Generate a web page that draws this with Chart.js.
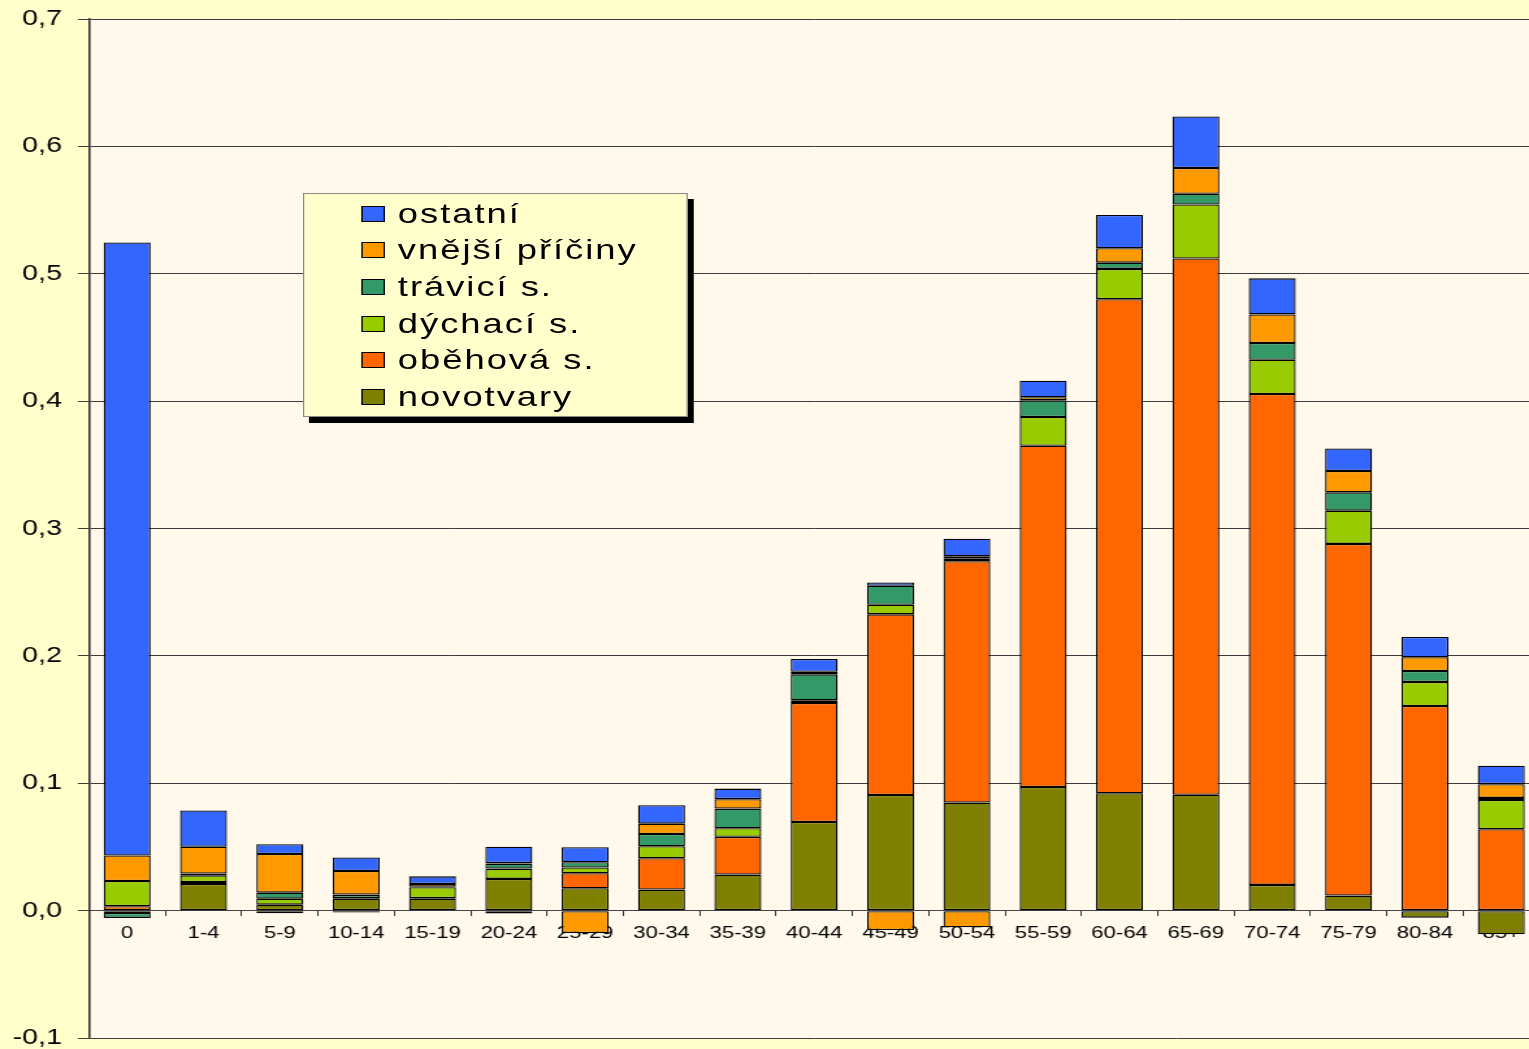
<!DOCTYPE html>
<html>
<head>
<meta charset="utf-8">
<script src="https://cdn.jsdelivr.net/npm/chart.js@4.4.1/dist/chart.umd.min.js"></script>
<style>
  html, body { margin: 0; padding: 0; background: #FFFFCC; overflow: hidden; }
  #wrap { position: relative; width: 1184px; height: 1049px; transform: scaleX(1.30017); transform-origin: 0 0; }
  #c { position: absolute; left: 0; top: 0; }
  #legend {
    position: absolute; left: 233px; top: 193px; width: 296px; height: 224px;
    box-sizing: border-box; background: #FFFFCC; border: 1px solid #888;
    box-shadow: 4.6px 6px 0 #000; padding-top: 1.5px;
    font-family: 'Liberation Sans', Arial, sans-serif; font-size: 28px; letter-spacing: 1.5px; color: #000;
  }
  .row { display: flex; align-items: center; height: 36.6px; }
  .sw { box-sizing: border-box; width: 18.5px; height: 16px; border: 1.3px solid #000; margin-left: 43.5px; flex: none; }
  .lb { margin-left: 10px; white-space: nowrap; }
</style>
</head>
<body>
<div id="wrap">
  <canvas id="c" width="1184" height="1049"></canvas>
  <div id="legend"></div>
</div>
<script>
const categories = ['0','1-4','5-9','10-14','15-19','20-24','25-29','30-34','35-39','40-44','45-49','50-54','55-59','60-64','65-69','70-74','75-79','80-84','85+'];
const seriesNames = ['novotvary', 'oběhová s.', 'dýchací s.', 'trávicí s.', 'vnější příčiny', 'ostatní'];
const seriesColors = ['#808000', '#FF6600', '#99CC00', '#339966', '#FF9900', '#3366FF'];
const novotvary = [-0.0018, 0.021, 0.0047, 0.0094, 0.0094, 0.0249, 0.0176, 0.0165, 0.0283, 0.0696, 0.0908, 0.0848, 0.0971, 0.0922, 0.091, 0.0202, 0.0118, -0.0055, -0.0185];
const obehova = [0.0035, 0.0015, -0.002, -0.0015, 0.0005, -0.0023, 0.0118, 0.0246, 0.0296, 0.0934, 0.1418, 0.1895, 0.2679, 0.3878, 0.421, 0.3854, 0.2761, 0.1607, 0.0639];
const dychaci = [0.0197, 0.0052, 0.0047, 0.0005, 0.0084, 0.0081, 0.0044, 0.0094, 0.0068, 0.0021, 0.0075, 0.002, 0.0225, 0.0238, 0.0424, 0.0269, 0.0261, 0.0188, 0.023];
const travici = [-0.0039, 0.0015, 0.0047, 0.0027, 0.0005, 0.0039, 0.0042, 0.0097, 0.0154, 0.0204, 0.0149, 0.0019, 0.0131, 0.0049, 0.0084, 0.0131, 0.0144, 0.0086, 0.0016];
const vnejsi = [0.0201, 0.021, 0.0304, 0.0185, 0.0021, 0.0004, -0.0177, 0.0081, 0.0074, 0.002, -0.0152, -0.013, 0.0024, 0.0113, 0.0202, 0.0225, 0.0167, 0.0108, 0.0108];
const ostatni = [0.4812, 0.0285, 0.0076, 0.0107, 0.006, 0.0128, 0.0118, 0.0144, 0.0083, 0.01, 0.0027, 0.0138, 0.013, 0.0261, 0.0405, 0.0283, 0.0178, 0.016, 0.0144];
const yTicks = [-0.1, 0, 0.1, 0.2, 0.3, 0.4, 0.5, 0.6, 0.7];

const seriesValues = [novotvary, obehova, dychaci, travici, vnejsi, ostatni];

Chart.defaults.font.family = "'Liberation Sans', Arial, sans-serif";
Chart.defaults.color = '#000';

const plotBg = {
  id: 'plotBg',
  beforeDraw(chart) {
    const {ctx, chartArea: a} = chart;
    ctx.save();
    ctx.fillStyle = '#FFF9EC';
    ctx.fillRect(a.left, a.top, a.right - a.left, a.bottom - a.top);
    ctx.restore();
  }
};

const chart = new Chart(document.getElementById('c'), {
  type: 'bar',
  data: {
    labels: categories,
    datasets: seriesNames.map((name, i) => ({
      label: name,
      data: seriesValues[i],
      backgroundColor: seriesColors[i],
      borderColor: '#000',
      borderWidth: 1.3,
      borderSkipped: false,
      inflateAmount: 0,
      barPercentage: 0.615,
      categoryPercentage: 1
    }))
  },
  options: {
    responsive: false,
    animation: false,
    layout: { padding: { top: 19, bottom: 11, left: 0, right: 0 } },
    plugins: { legend: { display: false }, tooltip: { enabled: false } },
    scales: {
      x: {
        stacked: true,
        position: { y: 0 },
        z: 1,
        afterFit: s => { s.height = 0; },
        grid: { display: true, drawOnChartArea: false, drawTicks: true, tickLength: 5, offset: true, color: '#333', lineWidth: 1 },
        border: { display: true, color: '#444', width: 1 },
        ticks: { autoSkip: false, maxRotation: 0, minRotation: 0, padding: 7, font: { size: 17 }, color: '#000' }
      },
      y: {
        stacked: true,
        min: -0.1,
        max: 0.7,
        afterFit: s => { s.width = 68.45; s.paddingTop = 11; s.paddingBottom = 11; },
        afterBuildTicks: s => { s.ticks = yTicks.map(v => ({ value: v })); },
        grid: { color: '#3c3c3c', lineWidth: 1, drawTicks: true, tickLength: 8.5 },
        border: { display: true, color: '#333', width: 1.6 },
        ticks: {
          padding: 12.3,
          font: { size: 22, lineHeight: 1 },
          color: '#000',
          callback: v => v.toFixed(1).replace('.', ',')
        }
      }
    }
  },
  plugins: [plotBg]
});

// HTML legend built from the chart datasets (reverse order like the original)
const legendEl = document.getElementById('legend');
chart.data.datasets.slice().reverse().forEach(ds => {
  const row = document.createElement('div');
  row.className = 'row';
  const sw = document.createElement('span');
  sw.className = 'sw';
  sw.style.background = ds.backgroundColor;
  const lb = document.createElement('span');
  lb.className = 'lb';
  lb.textContent = ds.label;
  row.appendChild(sw);
  row.appendChild(lb);
  legendEl.appendChild(row);
});
</script>
</body>
</html>
